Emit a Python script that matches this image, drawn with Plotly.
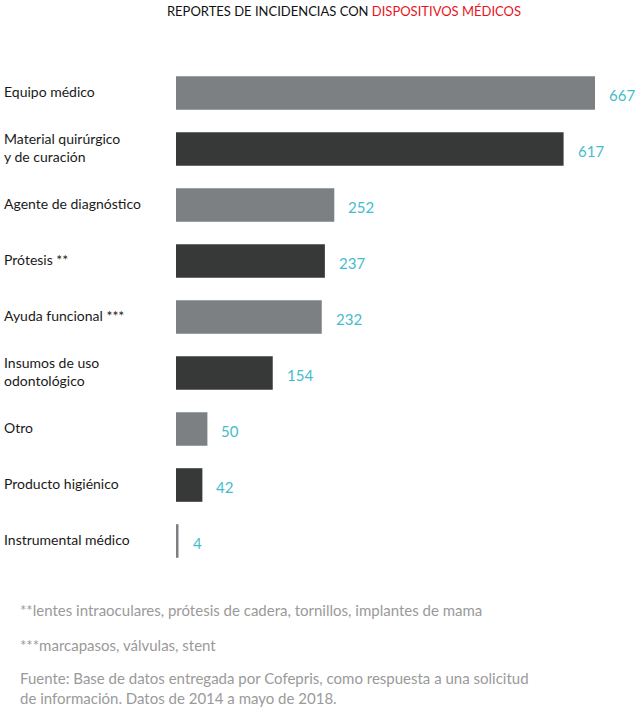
import plotly.graph_objects as go

categorias = ["Equipo médico", "Material quirúrgico<br>y de curación", "Agente de diagnóstico",
              "Prótesis **", "Ayuda funcional ***", "Insumos de uso<br>odontológico",
              "Otro", "Producto higiénico", "Instrumental médico"]
reportes = [667, 617, 252, 237, 232, 154, 50, 42, 4]
colores = ["#7c8083", "#373939"] * 5

notas = ["**lentes intraoculares, prótesis de cadera, tornillos, implantes de mama",
         "***marcapasos, válvulas, stent",
         "Fuente: Base de datos entregada por Cofepris, como respuesta a una solicitud<br>de información. Datos de 2014 a mayo de 2018."]

FONT = "Lato"
W, H = 639, 707
L, R, T, B = 176, 44, 65, 138
pw = W - L - R
ph = H - T - B

fig = go.Figure(go.Bar(
    x=reportes, y=categorias, orientation="h",
    marker=dict(color=colores[:len(reportes)], line=dict(width=0)),
    width=0.6, hoverinfo="x+y"
))

# value labels
for c, v in zip(categorias, reportes):
    fig.add_annotation(x=v, y=c, text=str(v), showarrow=False, xanchor="left",
                       xshift=12, yshift=-2, font=dict(family=FONT, size=15, color="#45bccb"))

# category labels, left aligned
for c in categorias:
    fig.add_annotation(x=(2 - L) / pw, xref="paper", y=c, text=c, showarrow=False,
                       xanchor="left", align="left", yshift=2,
                       font=dict(family=FONT, size=14, color="#1a1a1a"))

# footnotes
for txt, py in zip(notas, [610, 645, 688]):
    fig.add_annotation(x=(18 - L) / pw, xref="paper", y=(H - B - py) / ph, yref="paper",
                       text=txt, showarrow=False, xanchor="left", yanchor="middle", align="left",
                       font=dict(family=FONT, size=15, color="#9a9a9a"))

fig.update_layout(
    width=W, height=H,
    margin=dict(l=L, r=R, t=T, b=B),
    paper_bgcolor="white", plot_bgcolor="white",
    title=dict(text="REPORTES DE INCIDENCIAS CON <span style='color:#e8141c'>DISPOSITIVOS MÉDICOS</span>",
               x=344 / W, xanchor="center", y=1 - 11 / H, yanchor="middle",
               font=dict(family=FONT, size=13, color="#111111")),
    showlegend=False,
    bargap=0.4,
)
fig.update_xaxes(range=[0, 667], visible=False)
fig.update_yaxes(autorange="reversed", showticklabels=False, showgrid=False, zeroline=False)

fig.write_html("out.html", config={"displayModeBar": False},
               post_script="document.body.style.margin='0';document.body.style.overflow='hidden';")
